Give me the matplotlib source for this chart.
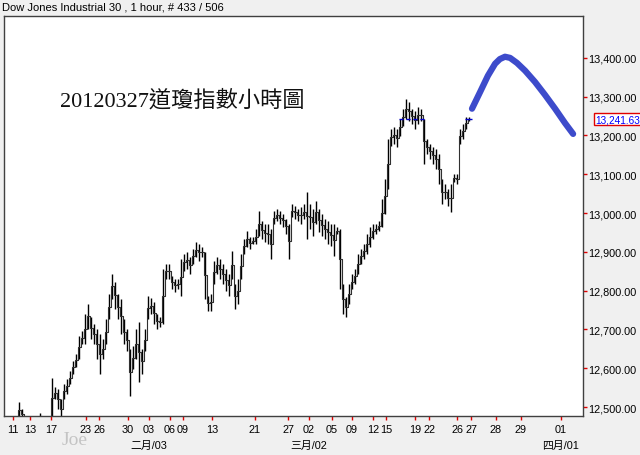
import numpy as np
import matplotlib
matplotlib.use("Agg")
import matplotlib.pyplot as plt
from matplotlib.transforms import blended_transform_factory

plt.rcParams['font.family'] = ['Liberation Sans', 'Noto Sans CJK TC', 'DejaVu Sans']

highs = [12465, 12470, 12513, 12495, 12460, 12455, 12450, 12455, 12460, 12485, 12460, 12455, 12465,
         12575, 12552, 12546, 12521, 12559, 12572, 12593, 12619, 12637, 12683,
         12696, 12740, 12766, 12732, 12714, 12701, 12688, 12675, 12727, 12791,
         12843, 12822, 12791, 12779, 12727, 12701, 12650, 12657, 12701, 12719,
         12650, 12701, 12786, 12781, 12771, 12740, 12732, 12856, 12869, 12869,
         12838, 12830, 12830, 12882, 12895, 12900, 12887, 12907, 12925, 12920,
         12913, 12900, 12786, 12791, 12877, 12887, 12882, 12869, 12856, 12843,
         12902, 12817, 12830, 12895, 12933, 12954, 12938, 12938, 12959, 13005,
         12980, 12972, 12972, 12959, 13005, 13011, 13005, 12998, 12985, 12972,
         13023, 13018, 13011, 13016, 13023, 13054, 13023, 13011, 13031, 13011,
         12998, 12985, 12980, 12972, 12972, 12964, 12959, 12817, 12784, 12817,
         12843, 12856, 12895, 12907, 12920, 12946, 12964, 12972, 12972, 12980,
         13036, 13088, 13191, 13217, 13222, 13217, 13243, 13269, 13294, 13287,
         13269, 13263, 13274, 13269, 13243, 13191, 13178, 13171, 13165, 13152,
         13088, 13075, 13062, 13075, 13101, 13101, 13217, 13230, 13248, 13248]
lows = [12440, 12445, 12470, 12470, 12440, 12430, 12425, 12430, 12440, 12470, 12440, 12430, 12440,
        12470, 12521, 12495, 12470, 12521, 12534, 12559, 12585, 12603, 12624,
        12662, 12662, 12701, 12675, 12662, 12624, 12585, 12624, 12662, 12727,
        12779, 12753, 12727, 12688, 12662, 12644, 12528, 12598, 12624, 12564,
        12585, 12644, 12727, 12740, 12714, 12701, 12706, 12714, 12830, 12830,
        12804, 12797, 12804, 12786, 12851, 12856, 12843, 12869, 12887, 12877,
        12887, 12779, 12748, 12748, 12817, 12843, 12830, 12817, 12799, 12786,
        12830, 12753, 12766, 12830, 12895, 12913, 12907, 12920, 12920, 12941,
        12933, 12925, 12920, 12882, 12972, 12980, 12972, 12964, 12946, 12882,
        12990, 12985, 12980, 12972, 12985, 12933, 12959, 12941, 12972, 12951,
        12941, 12933, 12920, 12915, 12889, 12946, 12804, 12740, 12732, 12766,
        12804, 12817, 12843, 12869, 12882, 12895, 12913, 12933, 12946, 12954,
        12964, 12998, 13062, 13173, 13178, 13171, 13199, 13225, 13243, 13238,
        13230, 13217, 13230, 13238, 13127, 13152, 13140, 13127, 13114, 13075,
        13023, 13036, 13018, 13003, 13080, 13075, 13178, 13191, 13217, 13238]
last_price = 13241.63

# hand drawn forecast curve (bar index, price)
proj_x = [153, 155.7, 158.3, 160.7, 162.3, 164, 165.7, 168, 170.7, 174, 177.3, 180.7, 184, 186.7]
proj_y = [13269, 13312, 13354, 13385, 13397, 13403, 13400, 13387, 13367, 13338, 13305, 13269, 13232, 13204]

# x axis (bar index) labels
day_pos = [0, 5.67, 12.67, 24.33, 28.67, 38.33, 45.33, 52.33, 56.67, 66.33, 80.67, 91.67,
           98.67, 106.33, 113, 120, 124.33, 134, 138.67, 148, 152.67, 161, 169.33, 182.67]
day_labels = ["11", "13", "17", "23", "26", "30", "03", "06", "09", "13", "21", "27",
              "02", "05", "09", "12", "15", "19", "22", "26", "27", "28", "29", "01"]
month_pos = [45.33, 98.67, 182.67]
month_labels = ["二月/03", "三月/02", "四月/01"]
price_ticks = [12500, 12600, 12700, 12800, 12900, 13000, 13100, 13200, 13300, 13400]

fig = plt.figure(figsize=(6.4, 4.56), dpi=100)
fig.patch.set_facecolor("#f0f0f0")
ax = fig.add_axes([4 / 640, 39 / 456, 579 / 640, 400 / 456])
ax.set_facecolor("white")

xs = np.arange(len(highs))
hi = np.array(highs)
lo = np.array(lows)
ax.vlines(xs, lo, hi, color="black", lw=1.0)
ax.plot(xs, (hi + lo) / 2, color="#303030", lw=0.8, drawstyle="steps-mid")

# price line marks
ax.hlines(last_price, 128.7, 137.3, color="#0000cc", lw=1, linestyles=(0, (3, 2)))
ax.hlines(last_price, 150.7, 153, color="#0000cc", lw=1)

ax.plot(proj_x, proj_y, color="#3d4bcb", lw=4.5, solid_capstyle="round", solid_joinstyle="round")

ax.set_xlim(-3, 190)
ax.set_ylim(12476.8, 13508)

for s in ax.spines.values():
    s.set_color("#404040")
    s.set_linewidth(1)

ax.yaxis.tick_right()
ax.set_yticks(price_ticks)
ax.set_yticklabels([f"{v:,.2f}" for v in price_ticks])
ax.tick_params(axis="y", colors="#e00000", labelcolor="black", length=3, width=1,
               direction="out", labelsize=7.8, pad=1)
ax.set_xticks(day_pos)
ax.set_xticklabels(day_labels)
ax.tick_params(axis="x", colors="#e00000", labelcolor="black", length=3, width=1,
               direction="out", labelsize=7.8, pad=3)

trans = blended_transform_factory(ax.transData, ax.transAxes)
for p, lab in zip(month_pos, month_labels):
    ax.text(p, -0.073, lab, transform=trans, ha="center", va="center", fontsize=7.8)

ax.annotate(f"{last_price:,.2f}", xy=(1, last_price), xycoords=("axes fraction", "data"),
            xytext=(8.5, 0), textcoords="offset points", ha="left", va="center",
            fontsize=7.2, color="#0000ff",
            bbox=dict(boxstyle="square,pad=0.1", fc="white", ec="#e00000", lw=1))

fig.text(2 / 640, 1 - 8 / 456, "Dow Jones Industrial 30 , 1 hour, # 433 / 506",
         fontsize=8, va="center", ha="left")
ax.text(0.097, 0.79, "20120327道瓊指數小時圖", transform=ax.transAxes, fontsize=16,
        family=["Liberation Serif", "Noto Sans CJK TC"], va="center", ha="left", color="#111111")
fig.text(75 / 640, 1 - 441 / 456, "Joe", fontsize=14, family="Liberation Serif",
         color="#c4c4c4", ha="center", va="center")

fig.savefig("out.png", dpi=100, facecolor=fig.get_facecolor())
